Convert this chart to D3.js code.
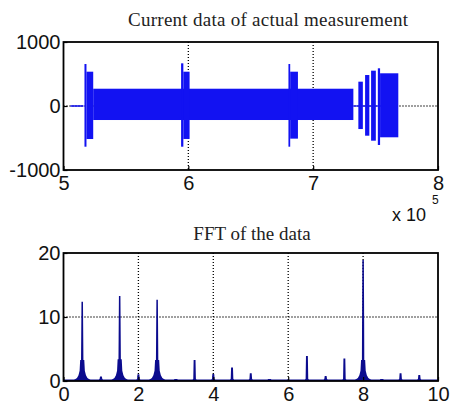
<!DOCTYPE html>
<html>
<head>
<meta charset="utf-8">
<script src="https://cdn.jsdelivr.net/npm/d3@7"></script>
<style>
  body { margin: 0; background: #fff; }
  svg { display: block; }
</style>
</head>
<body>
<svg id="chart" width="450" height="404"></svg>
<script>
// measured current, envelope segments (x in units of 1e5 samples)
var segStart = [5.056, 5.168, 5.184, 5.238, 5.942, 5.960, 6.802, 6.816, 7.320, 7.362, 7.416, 7.464, 7.518, 7.536]
var segEnd   = [5.160, 5.184, 5.238, 7.322, 5.960, 6.010, 6.816, 6.878, 7.680, 7.398, 7.450, 7.502, 7.536, 7.682]
var segHigh  = [12, 656, 536, 270, 667, 536, 656, 536, 10, 380, 484, 552, 589, 511]
var segLow   = [-12, -636, -516, -219, -636, -515, -636, -510, -10, -360, -464, -542, -609, -489]

var topXTicks = [5, 6, 7, 8]
var topYTicks = [-1000, 0, 1000]

// FFT peaks
var peakFreq     = [0.5, 1.0, 1.5, 2.0, 2.5, 3.0, 3.5, 4.0, 4.5, 5.0, 5.5, 6.5, 7.0, 7.5, 8.0, 8.5, 9.0, 9.5]
var peakHeight   = [12.4, 0.7, 13.3, 1.05, 12.7, 0.3, 3.3, 1.1, 2.1, 1.2, 0.3, 3.9, 0.8, 3.5, 18.9, 0.3, 1.2, 0.95]
var peakShoulder = [3.3, 0, 3.4, 0, 3.3, 0, 0, 0, 0, 0, 0, 0, 0, 0, 3.3, 0, 0, 0]
var fftFloor = 0.22

var fftXTicks = [0, 2, 4, 6, 8, 10]
var fftYTicks = [0, 10, 20]

var svg = d3.select("#chart")
var tickFont = "'Liberation Sans', Arial, sans-serif"
var titleFont = "'Liberation Serif', 'Times New Roman', serif"

var boxTop = { left: 63.5, right: 438, top: 42, bottom: 170 }
var boxFft = { left: 63.5, right: 438, top: 253, bottom: 381 }

var xTop = d3.scaleLinear().domain([5, 8]).range([boxTop.left, boxTop.right])
var yTop = d3.scaleLinear().domain([-1000, 1000]).range([boxTop.bottom, boxTop.top])
var xFft = d3.scaleLinear().domain([0, 10]).range([boxFft.left, boxFft.right])
var yFft = d3.scaleLinear().domain([0, 20]).range([boxFft.bottom, boxFft.top])

function grid(g, box, xs, ys, xVals, yVals) {
  g.selectAll(".gx").data(xVals).enter().append("line")
    .attr("x1", d => xs(d)).attr("x2", d => xs(d))
    .attr("y1", box.top).attr("y2", box.bottom)
  g.selectAll(".gy").data(yVals).enter().append("line")
    .attr("y1", d => ys(d)).attr("y2", d => ys(d))
    .attr("x1", box.left).attr("x2", box.right)
  g.selectAll("line")
    .attr("stroke", "#000").attr("stroke-width", 1.3)
    .attr("stroke-dasharray", "1,2")
}

// plain hyphen minus like the original
var fmt = d => String(d)

function axes(box, xs, ys, xVals, yVals) {
  var ax = svg.append("g").attr("transform", "translate(0," + box.bottom + ")")
    .call(d3.axisBottom(xs).tickValues(xVals).tickSize(-4).tickPadding(6).tickFormat(fmt))
  var ay = svg.append("g").attr("transform", "translate(" + box.left + ",0)")
    .call(d3.axisLeft(ys).tickValues(yVals).tickSize(-4).tickPadding(3).tickFormat(fmt))
  ;[ax, ay].forEach(function (a) {
    a.select(".domain").remove()
    a.attr("font-family", tickFont).attr("font-size", 20)
    a.selectAll("text").attr("fill", "#111")
    a.selectAll("line").attr("stroke", "#000").attr("stroke-width", 1.2)
  })
  svg.append("rect")
    .attr("x", box.left).attr("y", box.top)
    .attr("width", box.right - box.left).attr("height", box.bottom - box.top)
    .attr("fill", "none").attr("stroke", "#000").attr("stroke-width", 1.8)
}

// ---- top plot ----
grid(svg.append("g"), boxTop, xTop, yTop, [6, 7], [0])

svg.append("g").selectAll("rect")
  .data(segStart)
  .enter().append("rect")
  .attr("x", (d, i) => xTop(d))
  .attr("width", (d, i) => Math.max(1, xTop(segEnd[i]) - xTop(d)))
  .attr("y", (d, i) => yTop(segHigh[i]))
  .attr("height", (d, i) => yTop(segLow[i]) - yTop(segHigh[i]))
  .attr("fill", "#1212f2")

axes(boxTop, xTop, yTop, topXTicks, topYTicks)

svg.append("text").attr("x", 268).attr("y", 26)
  .attr("text-anchor", "middle")
  .attr("font-family", titleFont).attr("font-size", 19)
  .attr("textLength", 280).attr("lengthAdjust", "spacing")
  .attr("fill", "#222")
  .text("Current data of actual measurement")

svg.append("text").attr("x", 392).attr("y", 221)
  .attr("font-family", tickFont).attr("font-size", 18).attr("fill", "#111")
  .text("x 10")
svg.append("text").attr("x", 432).attr("y", 204)
  .attr("font-family", tickFont).attr("font-size", 12).attr("fill", "#111")
  .text("5")

// ---- FFT plot ----
grid(svg.append("g"), boxFft, xFft, yFft, [2, 4, 6, 8], [10])

var area = d3.area()
  .x(d => xFft(d[0]))
  .y0(yFft(0))
  .y1(d => yFft(d[1]))

var fftG = svg.append("g").attr("fill", "#0b0b8e")

fftG.append("path").attr("d", area([[0, fftFloor], [10, fftFloor]]))

peakFreq.forEach(function (f, i) {
  var h = peakHeight[i], s = peakShoulder[i], pts
  if (s > 0) {
    pts = [[-0.26, 0], [-0.14, 0.45], [-0.1, 0.9], [-0.07, 1.6], [-0.055, s], [-0.032, s],
           [-0.028, h * 0.5], [-0.02, h], [0.02, h], [0.028, h * 0.5], [0.032, s],
           [0.055, s], [0.07, 1.6], [0.1, 0.9], [0.14, 0.45], [0.26, 0]]
  } else {
    pts = [[-0.07, 0], [-0.035, Math.min(h, 0.35)], [-0.025, h], [0.025, h], [0.035, Math.min(h, 0.35)], [0.07, 0]]
  }
  fftG.append("path").attr("d", area(pts.map(p => [f + p[0], p[1]])))
})

axes(boxFft, xFft, yFft, fftXTicks, fftYTicks)

svg.append("text").attr("x", 252).attr("y", 240)
  .attr("text-anchor", "middle")
  .attr("font-family", titleFont).attr("font-size", 19)
  .attr("fill", "#222")
  .text("FFT of the data")
</script>
</body>
</html>
